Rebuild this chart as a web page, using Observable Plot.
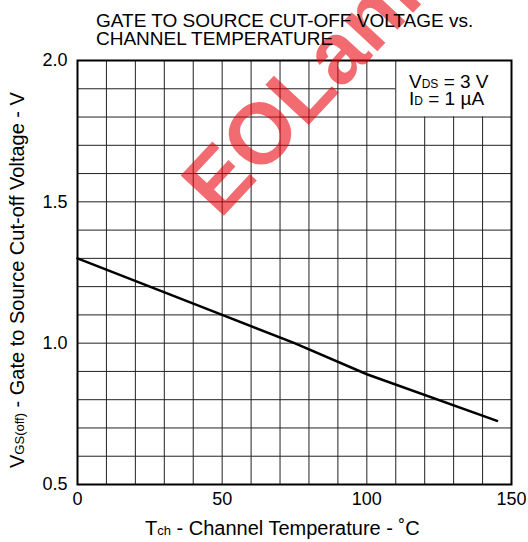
<!DOCTYPE html>
<html>
<head>
<meta charset="utf-8">
<script src="https://cdn.jsdelivr.net/npm/d3@7"></script>
<script src="https://cdn.jsdelivr.net/npm/@observablehq/plot@0.6"></script>
<style>
  html, body { margin: 0; padding: 0; background: white; }
  #chart { width: 528px; height: 542px; overflow: hidden; }
</style>
</head>
<body>
<div id="chart"></div>
<script>
// ---- data ----
const temperature = [0, 50, 75, 100, 145];           // Tch (°C)
const vgsOff = [1.30, 1.10, 1.00, 0.89, 0.725];       // VGS(off) (V)
const xTicks = [0, 50, 100, 150];
const yTicks = [0.5, 1.0, 1.5, 2.0];
const xGrid = [0, 10, 20, 30, 40, 50, 60, 70, 80, 90, 100, 110, 120, 130, 140, 150];
const yGrid = [0.5, 0.6, 0.7, 0.8, 0.9, 1.0, 1.1, 1.2, 1.3, 1.4, 1.5, 1.6, 1.7, 1.8, 1.9, 2.0];
const titleLines = ["GATE TO SOURCE CUT-OFF VOLTAGE vs.", "CHANNEL TEMPERATURE"];
const condition1 = ["V", "DS", " = 3 V"];
const condition2 = ["I", "D", " = 1 \u00B5A"];
const xLabel = ["T", "ch", " - Channel Temperature - \u02DAC"];
const yLabel = ["V", "GS(off)", " - Gate to Source Cut-off Voltage - V"];
const watermark = "EOLannounced";
// legend box (cell region without grid)
const boxX = [110, 150];
const boxY = [1.8, 2.0];

const series = temperature.map((t, i) => ({t, v: vgsOff[i]}));
const font = "'Liberation Sans', Arial, Helvetica, sans-serif";

const chart = Plot.plot({
  width: 528,
  height: 542,
  marginLeft: 77,
  marginRight: 17,
  marginTop: 60,
  marginBottom: 58,
  style: {background: "white", fontFamily: font, fontSize: "18px", color: "black"},
  x: {domain: [0, 150], ticks: xTicks, tickSize: 0, tickPadding: 8, label: null},
  y: {domain: [0.5, 2.0], ticks: yTicks, tickSize: 0, tickPadding: 10, tickFormat: ".1f", label: null},
  marks: [
    Plot.ruleX(xGrid, {
      x: d => d,
      y1: 0.5,
      y2: d => (d > boxX[0] && d < boxX[1]) ? boxY[0] : 2.0,
      stroke: "#222", strokeWidth: 1
    }),
    Plot.ruleY(yGrid, {
      y: d => d,
      x1: 0,
      x2: d => (d > boxY[0] && d < boxY[1]) ? boxX[0] : 150,
      stroke: "#222", strokeWidth: 1
    }),
    Plot.line(series, {x: "t", y: "v", stroke: "black", strokeWidth: 2.5}),
    Plot.frame({stroke: "black", strokeWidth: 2})
  ]
});

const svg = d3.select(chart);
svg.attr("font-family", font);

// watermark
svg.append("text")
  .attr("text-anchor", "start")
  .attr("transform", "translate(220,220) rotate(-47)")
  .attr("font-size", 86)
  .attr("font-weight", "bold")
  .attr("fill", "#e8000b")
  .attr("fill-opacity", 0.58)
  .text(watermark);

// title
const title = svg.append("text").attr("font-size", 19).attr("fill", "black").attr("text-anchor", "start");
titleLines.forEach((line, i) => {
  title.append("tspan").attr("x", 96).attr("y", 27 + i * 18).text(line);
});

function richText(parent, parts, x, y, size, subSize, transform) {
  const t = parent.append("text").attr("x", x).attr("y", y)
    .attr("font-size", size).attr("fill", "black").attr("text-anchor", "start");
  if (transform) t.attr("transform", transform);
  t.append("tspan").text(parts[0]);
  t.append("tspan").attr("font-size", subSize).text(parts[1]);
  t.append("tspan").text(parts[2]);
  return t;
}
// condition box text
richText(svg, condition1, 409, 88, 19, 12);
richText(svg, condition2, 409, 105, 19, 12);

// axis labels
richText(svg, xLabel, 145, 535, 20, 13);
richText(svg, yLabel, 0, 0, 20, 13, "translate(24,468) rotate(-90)");

document.getElementById("chart").appendChild(chart);
</script>
</body>
</html>
